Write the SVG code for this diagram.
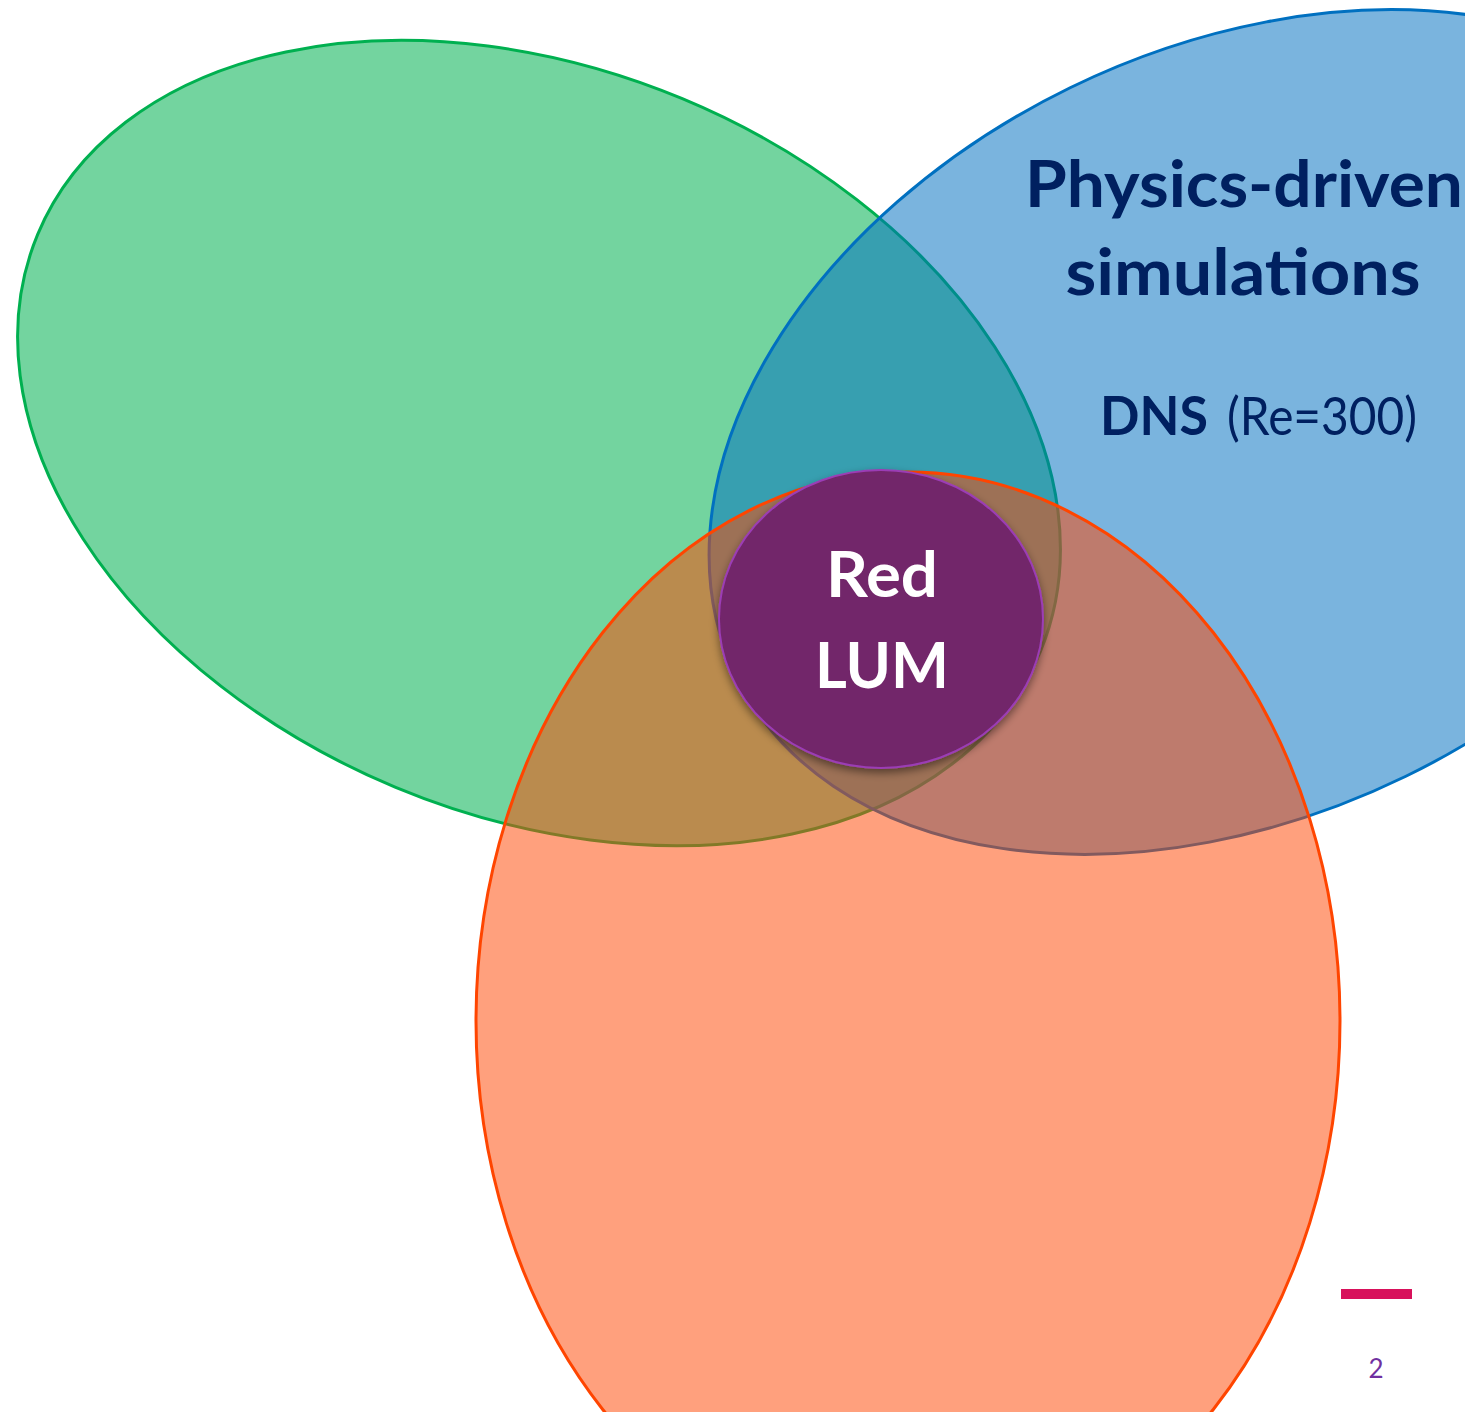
<svg xmlns="http://www.w3.org/2000/svg" width="1465" height="1412" viewBox="0 0 1465 1412">
<style>
.set{stroke-width:3}
.title{font-family:Lato,"Liberation Sans",sans-serif;font-weight:bold;fill:#002060;text-anchor:middle}
.sub{font-family:Lato,"Liberation Sans",sans-serif;fill:#002060}
.core{font-family:Lato,"Liberation Sans",sans-serif;font-weight:bold;fill:#FFFFFF;text-anchor:middle}
</style>
<defs>
<filter id="sh" x="-20%" y="-20%" width="140%" height="140%">
<feDropShadow dx="0" dy="4" stdDeviation="4" flood-color="#000000" flood-opacity="0.45"/>
</filter>
</defs>
<rect width="1465" height="1412" fill="#FFFFFF"/>
<g id="green-set">
<ellipse class="set" cx="539" cy="443" rx="543" ry="373" transform="rotate(22.6 539 443)" fill="#00B050" fill-opacity="0.55" stroke="#00B050"/>
</g>
<g id="blue-set">
<ellipse class="set" cx="1238" cy="432" rx="558" ry="383" transform="rotate(-26 1238 432)" fill="#0070C0" fill-opacity="0.52" stroke="#0070C0"/>
<text class="title" x="1244" y="207" font-size="65" textLength="438" lengthAdjust="spacingAndGlyphs">Physics-driven</text>
<text class="title" x="1243" y="295" font-size="65" textLength="355" lengthAdjust="spacingAndGlyphs">simulations</text>
<text class="sub" x="1100" y="435" font-size="53"><tspan font-weight="bold" textLength="108" lengthAdjust="spacingAndGlyphs">DNS</tspan> <tspan x="1227" textLength="190" lengthAdjust="spacingAndGlyphs">(Re=300)</tspan></text>
</g>
<g id="orange-set">
<ellipse class="set" cx="908" cy="1021" rx="432" ry="549" fill="#FF4500" fill-opacity="0.51" stroke="#FF4500"/>
</g>
<g id="core">
<ellipse cx="881" cy="619" rx="162" ry="149" fill="#72256A" stroke="#9B3DB5" stroke-width="2" filter="url(#sh)"/>
<text class="core" x="882" y="597" font-size="63" textLength="112" lengthAdjust="spacingAndGlyphs">Red</text>
<text class="core" x="882" y="688" font-size="63" textLength="134" lengthAdjust="spacingAndGlyphs">LUM</text>
</g>
<g id="connectors"></g>
<g id="footer">
<rect x="1341" y="1289" width="71" height="10" fill="#D8115B"/>
<text x="1376" y="1378" font-family="Lato,'Liberation Sans',sans-serif" font-size="26" fill="#7030A0" text-anchor="middle">2</text>
</g>
</svg>
